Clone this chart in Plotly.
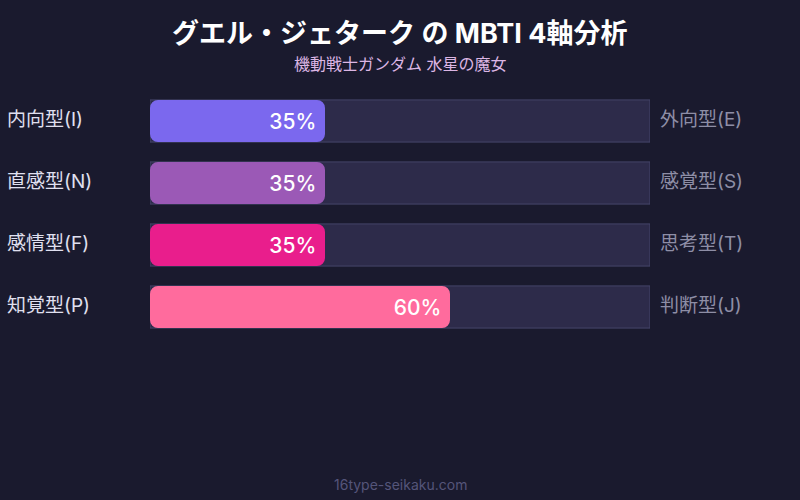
import plotly.graph_objects as go

# MBTI 4軸の値（左側の割合 %）
axes = ["IE", "NS", "FT", "PJ"]
left_labels = ["内向型(I)", "直感型(N)", "感情型(F)", "知覚型(P)"]
right_labels = ["外向型(E)", "感覚型(S)", "思考型(T)", "判断型(J)"]
values = [35, 35, 35, 60]
colors = ["#7b68ee", "#9b59b6", "#e91e8c", "#ff6b9d"]

title = "グエル・ジェターク の MBTI 4軸分析"
subtitle = "機動戦士ガンダム 水星の魔女"
footer = "16type-seikaku.com"

BG = "#1a1a2e"
FONT = "Inter, Noto Sans CJK JP"
W, H = 800, 500
M = dict(l=150, r=150, t=90, b=162)


def py(px):
    # ピクセル位置(上から) -> paper 座標
    return (H - px - M["b"]) / (H - M["t"] - M["b"])


fig = go.Figure()

# 背景トラック
fig.add_trace(go.Bar(
    y=axes, x=[100] * len(axes), orientation="h",
    marker=dict(color="#2d2b4a", line=dict(color="#45456a", width=1)),
    width=0.68, hoverinfo="skip", showlegend=False,
))

# 値バー
fig.add_trace(go.Bar(
    y=axes, x=values, base=[0] * len(axes), orientation="h",
    marker=dict(color=colors, cornerradius=8, line_width=0),
    width=0.68, text=[f"{v}%\u00a0" for v in values],
    textposition="inside", insidetextanchor="end", textangle=0,
    textfont=dict(family=FONT, size=21, color="white", weight=500),
    hoverinfo="skip", showlegend=False,
))

for ax, l, r in zip(axes, left_labels, right_labels):
    fig.add_annotation(x=-0.29, y=ax, xref="paper", yref="y", text=l,
                       showarrow=False, xanchor="left", yshift=2,
                       font=dict(family=FONT, size=19, color="#e0e0f0"))
    fig.add_annotation(x=1.016, y=ax, xref="paper", yref="y", text=r,
                       showarrow=False, xanchor="left", yshift=2,
                       font=dict(family=FONT, size=19, color="#8e8ea6"))

fig.add_annotation(x=0.5, y=py(33), xref="paper", yref="paper",
                   xanchor="center", yanchor="middle", showarrow=False,
                   text=f"<b>{title}</b>", font=dict(family=FONT, size=27, color="white"))
fig.add_annotation(x=0.5, y=py(64), xref="paper", yref="paper",
                   xanchor="center", yanchor="middle", showarrow=False,
                   text=subtitle, font=dict(family=FONT, size=16, color="#dcb6e4"))
fig.add_annotation(x=0.5, y=py(484), xref="paper", yref="paper",
                   xanchor="center", yanchor="middle", showarrow=False,
                   text=footer, font=dict(family=FONT, size=14, color="#55557a"))

fig.update_layout(
    width=W, height=H,
    paper_bgcolor=BG, plot_bgcolor=BG,
    margin=M,
    barmode="overlay",
    xaxis=dict(range=[0, 100], visible=False, fixedrange=True),
    yaxis=dict(categoryorder="array", categoryarray=axes[::-1],
               range=[-0.5, 3.5], visible=False, fixedrange=True),
    font=dict(family=FONT),
)

fig.write_html("out.html", config={"displayModeBar": False},
               post_script="document.body.style.margin='0';")
